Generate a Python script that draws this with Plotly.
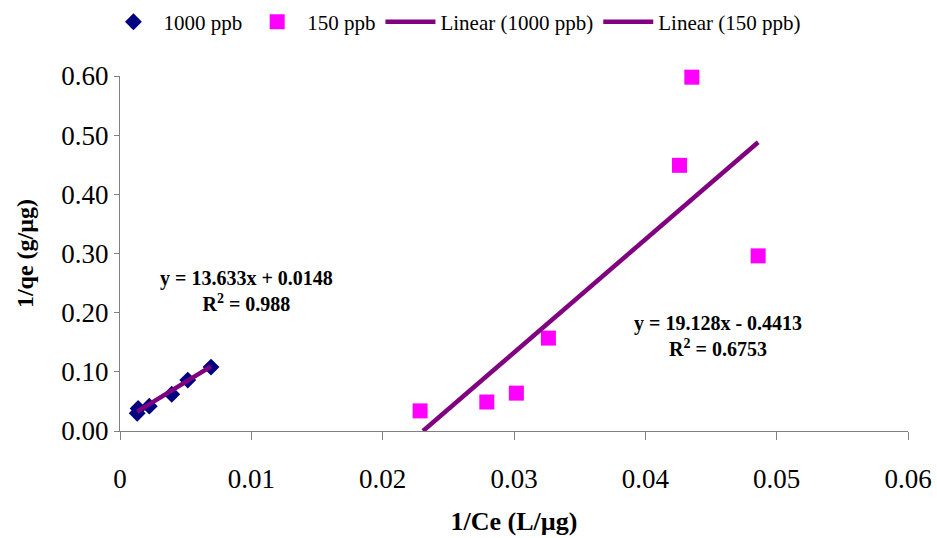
import numpy as np
import plotly.graph_objects as go

# Data
x_1000 = [0.00131, 0.00138, 0.00223, 0.00394, 0.00516, 0.00693]
y_1000 = [0.030, 0.038, 0.042, 0.062, 0.086, 0.108]
x_150 = [0.02285, 0.02793, 0.03018, 0.03262, 0.04260, 0.04354, 0.04859]
y_150 = [0.034, 0.049, 0.064, 0.157, 0.449, 0.598, 0.296]

# Trendline coefficients as shown on the chart
fit_1000 = {"slope": 13.633, "intercept": 0.0148, "r2": 0.988}
fit_150 = {"slope": 19.128, "intercept": -0.4413, "r2": 0.6753}

x_ticks = [0, 0.01, 0.02, 0.03, 0.04, 0.05, 0.06]
x_tick_text = ["0", "0.01", "0.02", "0.03", "0.04", "0.05", "0.06"]
y_ticks = [0.0, 0.1, 0.2, 0.3, 0.4, 0.5, 0.6]

FONT = "Liberation Serif, Times New Roman, serif"
PURPLE = "#800080"


def trend(xs, fit):
    x0, x1 = min(xs), max(xs)
    if fit["slope"] * x0 + fit["intercept"] < 0:
        x0 = -fit["intercept"] / fit["slope"]
    xx = np.array([x0, x1])
    return xx, fit["slope"] * xx + fit["intercept"]


fig = go.Figure()
fig.add_trace(go.Scatter(x=x_1000, y=y_1000, mode="markers", name="1000 ppb",
                         marker=dict(symbol="diamond", size=13, color="#000080",
                                     line=dict(width=0)), cliponaxis=False))
fig.add_trace(go.Scatter(x=x_150, y=y_150, mode="markers", name="150 ppb",
                         marker=dict(symbol="square", size=15, color="#FF00FF",
                                     line=dict(width=0)), cliponaxis=False))
tx, ty = trend(x_1000, fit_1000)
fig.add_trace(go.Scatter(x=tx, y=ty, mode="lines", name="Linear (1000 ppb)",
                         line=dict(color=PURPLE, width=4.5)))
tx, ty = trend(x_150, fit_150)
fig.add_trace(go.Scatter(x=tx, y=ty, mode="lines", name="Linear (150 ppb)",
                         line=dict(color=PURPLE, width=4.5)))


def eq_text(fit):
    b = fit["intercept"]
    sign = "+" if b >= 0 else "-"
    return (f"<b>y = {fit['slope']}x {sign} {abs(b)}</b><br>"
            f"<b>R<sup>2</sup> = {fit['r2']}</b>")


fig.add_annotation(x=0.00965, y=0.236, xref="x", yref="y", text=eq_text(fit_1000),
                   showarrow=False, align="center",
                   font=dict(family=FONT, size=20, color="black"))
fig.add_annotation(x=0.0455, y=0.160, xref="x", yref="y", text=eq_text(fit_150),
                   showarrow=False, align="center",
                   font=dict(family=FONT, size=20, color="black"))

axis_common = dict(showgrid=False, zeroline=False, showline=True, automargin=False,
                   linecolor="#808080", linewidth=1, ticks="outside",
                   tickcolor="#808080", tickfont=dict(family=FONT, size=27, color="black"))

fig.update_xaxes(range=[0, 0.06], tickvals=x_ticks, ticktext=x_tick_text,
                 ticklen=8, ticklabelstandoff=16,
                 title=dict(text="<b>1/Ce (L/µg)</b>", standoff=18,
                            font=dict(family=FONT, size=26, color="black")),
                 **axis_common)
fig.update_yaxes(range=[0, 0.6], tickvals=y_ticks, tickformat=".2f",
                 ticklen=5,
                 title=dict(text="<b>1/qe (g/µg)</b>", standoff=20,
                            font=dict(family=FONT, size=24, color="black")),
                 **axis_common)

fig.update_layout(
    width=937, height=538,
    margin=dict(l=120, r=29, t=76, b=107, autoexpand=False),
    plot_bgcolor="white", paper_bgcolor="white",
    font=dict(family=FONT, color="black"),
    legend=dict(orientation="h", x=-0.021, xanchor="left", y=1.152, yanchor="middle",
                itemwidth=50,
                font=dict(family=FONT, size=21, color="black"),
                bgcolor="rgba(0,0,0,0)"),
)

fig.write_html("out.html", config={"displayModeBar": False},
               post_script="document.body.style.margin='0';")
